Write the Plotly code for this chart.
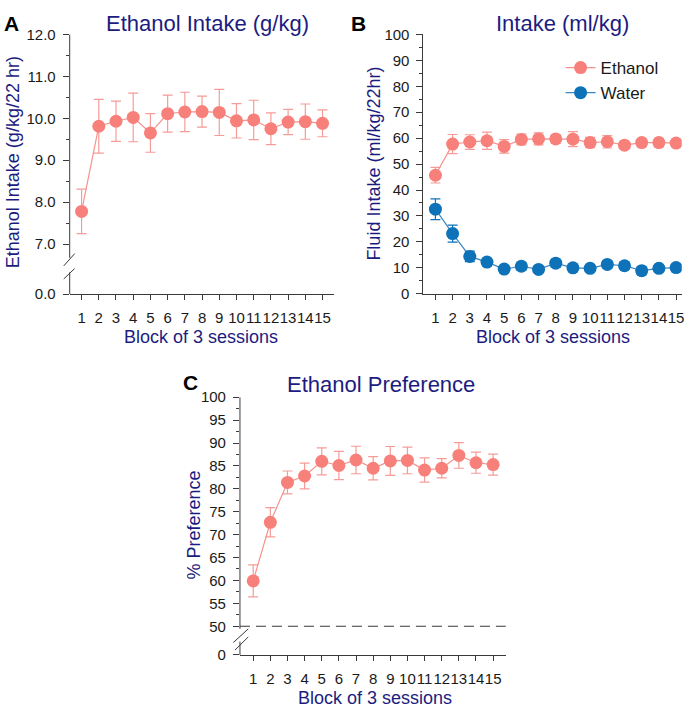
import plotly.graph_objects as go

# ---------------- data ----------------
blocks = list(range(1, 16))
block_labels = [str(b) for b in blocks]

ethanol_gkg = [7.78, 9.81, 9.93, 10.02, 9.65, 10.11, 10.15, 10.16, 10.14, 9.94, 9.96, 9.75, 9.91, 9.92, 9.88]
ethanol_gkg_sem = [0.53, 0.64, 0.48, 0.58, 0.46, 0.44, 0.47, 0.37, 0.55, 0.41, 0.47, 0.38, 0.30, 0.42, 0.32]

ethanol_mlkg = [45.7, 57.7, 58.5, 59.0, 56.8, 59.5, 59.7, 59.7, 59.6, 58.3, 58.6, 57.3, 58.3, 58.3, 58.1]
ethanol_mlkg_sem = [3.0, 3.7, 2.8, 3.3, 2.6, 2.1, 2.3, 1.6, 2.9, 2.0, 2.4, 1.5, 1.3, 1.6, 1.3]
water_mlkg = [32.6, 23.2, 14.4, 12.2, 9.5, 10.6, 9.4, 11.8, 10.0, 9.8, 11.3, 10.8, 8.9, 9.8, 10.1]
water_mlkg_sem = [4.0, 3.3, 2.0, 1.5, 1.2, 1.5, 1.2, 1.5, 1.3, 1.2, 1.4, 1.3, 1.5, 1.2, 1.2]

preference = [59.9, 72.7, 81.4, 82.8, 86.0, 85.1, 86.3, 84.5, 86.1, 86.2, 84.1, 84.5, 87.3, 85.7, 85.3]
preference_sem = [3.5, 3.2, 2.5, 2.8, 2.95, 3.1, 3.0, 2.55, 3.15, 2.9, 2.65, 2.1, 2.8, 2.3, 2.3]

# y tick labels
a_tick_vals = [7, 8, 9, 10, 11, 12]
a_tick_text = ["7.0", "8.0", "9.0", "10.0", "11.0", "12.0"]
b_tick_vals = list(range(0, 101, 10))
c_tick_vals = list(range(50, 101, 5))
chance_level = 50

# ---------------- styling ----------------
FONT = "Arial, Liberation Sans, sans-serif"
NAVY = "#1c1c80"
SALMON = "#F8807B"
SALMON_ERR = "#F59C98"
SALMON_LINE = "#F5928D"
BLUE = "#0D72B8"
AXIS = "#3a3a3a"
TICKC = "#1a1a1a"

W, H = 696, 715
def px(x):
    return x / W
def py(y):
    return 1 - y / H

# axis-break placeholders (virtual positions of the "0" label)
A_ZERO = 5.81
C_ZERO = 43.73

fig = go.Figure()

def add_series(x, y, sem, color, ecolor, lcolor, xa, ya, name, show):
    fig.add_trace(go.Scatter(
        x=x, y=y, mode="lines+markers", name=name, showlegend=show,
        xaxis=xa, yaxis=ya,
        line=dict(color=lcolor, width=1.2),
        marker=dict(color=color, size=13, line=dict(width=0)),
        error_y=dict(type="data", array=sem, visible=True, color=ecolor, thickness=1.2, width=5),
    ))

add_series(blocks, ethanol_gkg, ethanol_gkg_sem, SALMON, SALMON_ERR, SALMON_LINE, "x", "y", "Ethanol", False)
add_series(blocks, ethanol_mlkg, ethanol_mlkg_sem, SALMON, SALMON_ERR, SALMON_LINE, "x2", "y2", "Ethanol", True)
add_series(blocks, water_mlkg, water_mlkg_sem, BLUE, BLUE, "#3a86c2", "x2", "y2", "Water", True)
add_series(blocks, preference, preference_sem, SALMON, SALMON_ERR, SALMON_LINE, "x3", "y3", "Preference", False)

tickfont = dict(family=FONT, size=15, color=TICKC)

def xaxis_cfg(domain, rng, anchor):
    return dict(domain=domain, range=rng, anchor=anchor, tickmode="array",
                tickvals=blocks, ticktext=block_labels, ticks="outside", ticklen=5,
                tickcolor=AXIS, tickwidth=1, showline=True, linecolor=AXIS, linewidth=1,
                showgrid=False, zeroline=False, tickfont=tickfont, ticklabelstandoff=5,
                tickangle=0)

def yaxis_cfg(domain, rng, anchor, tv, tt, minor_vals, showline):
    return dict(domain=domain, range=rng, anchor=anchor, tickmode="array",
                tickvals=tv, ticktext=tt, ticks="outside", ticklen=6, tickcolor=AXIS,
                tickwidth=1, showline=showline, linecolor=AXIS, linewidth=1,
                showgrid=False, zeroline=False, tickfont=tickfont, ticklabelstandoff=4,
                minor=dict(tickmode="array", tickvals=minor_vals, ticks="outside",
                           ticklen=3, tickcolor=AXIS, tickwidth=1, showgrid=False))

dom_A_x = [px(70), px(335)]
dom_A_y = [py(292), py(26)]
dom_B_x = [px(425.3), px(684.7)]
dom_B_y = [py(291.7), py(26)]
dom_C_x = [px(241), px(508)]
dom_C_y = [py(661.7), py(397.7)]

fig.update_layout(
    width=W, height=H, autosize=False,
    margin=dict(l=0, r=0, t=0, b=0),
    paper_bgcolor="white", plot_bgcolor="white",
    font=dict(family=FONT),
    xaxis=xaxis_cfg(dom_A_x, [0.31, 15.64], "y"),
    yaxis=yaxis_cfg(dom_A_y, [A_ZERO, 12], "x", [A_ZERO] + a_tick_vals, ["0.0"] + a_tick_text,
                    [7.5, 8.5, 9.5, 10.5, 11.5], False),
    xaxis2=xaxis_cfg(dom_B_x, [0.305, 15.33], "y2"),
    yaxis2=yaxis_cfg(dom_B_y, [0, 100], "x2", b_tick_vals, [str(v) for v in b_tick_vals],
                     [v + 5 for v in b_tick_vals[:-1]], True),
    xaxis3=xaxis_cfg(dom_C_x, [0.227, 15.74], "y3"),
    yaxis3=yaxis_cfg(dom_C_y, [C_ZERO, 100], "x3", [C_ZERO] + c_tick_vals,
                     ["0"] + [str(v) for v in c_tick_vals],
                     [v + 2.5 for v in c_tick_vals[:-1]], False),
    legend=dict(x=px(563), y=py(42), xanchor="left", yanchor="top",
                font=dict(family=FONT, size=17, color=TICKC),
                bgcolor="rgba(0,0,0,0)", tracegroupgap=0, itemwidth=30),
)

# ---- broken y axis lines + break marks ----
shapes = []
def seg(xref, yref, x0, y0, x1, y1, dash="solid"):
    shapes.append(dict(type="line", xref=xref, yref=yref, x0=x0, y0=y0, x1=x1, y1=y1,
                       line=dict(color=AXIS, width=1, dash=dash)))

# Panel A
seg("x domain", "y", 0, 12, 0, 6.674)
seg("x domain", "y", 0, 6.326, 0, A_ZERO)
seg("x domain", "y", -0.0226, 6.481, 0.0189, 6.774)
seg("x domain", "y", -0.0226, 6.170, 0.0189, 6.419)
# Panel C
seg("x3 domain", "y3", 0, 100, 0, 49.42)
seg("x3 domain", "y3", 0, 46.65, 0, C_ZERO)
seg("x3 domain", "y3", -0.0251, 46.44, 0.0311, 49.42)
seg("x3 domain", "y3", -0.0187, 44.80, 0.0311, 47.66)
# chance line
seg("x3 domain", "y3", 0, chance_level, 1, chance_level, dash="10px,6px")

fig.update_layout(shapes=shapes)

# ---- text ----
ann = []
def text(x, y, s, size, color, bold=False, angle=0, xanchor="center"):
    ann.append(dict(x=px(x), y=py(y), xref="paper", yref="paper", text=("<b>%s</b>" % s) if bold else s,
                    showarrow=False, xanchor=xanchor, yanchor="middle", textangle=angle,
                    font=dict(family=FONT, size=size, color=color)))

# panel letters
text(12, 15, "A", 21, "black", bold=True)
text(360, 15, "B", 21, "black", bold=True)
text(191, 383, "C", 21, "black", bold=True)
# panel titles
text(208, 15, "Ethanol Intake (g/kg)", 22, NAVY)
text(565, 15, "Intake (ml/kg)", 22, NAVY)
text(383, 385, "Ethanol Preference", 22, NAVY)
# x titles
text(202, 336, "Block of 3 sessions", 18, NAVY)
text(555, 336, "Block of 3 sessions", 18, NAVY)
text(377, 706, "Block of 3 sessions", 18, NAVY)
# y titles
text(13, 157, "Ethanol Intake (g/kg/22 hr)", 18, NAVY, angle=-90)
text(376, 158, "Fluid Intake (ml/kg/22hr)", 18, NAVY, angle=-90)
text(195, 529, "% Preference", 18, NAVY, angle=-90)

fig.update_layout(annotations=ann)

fig.write_html(
    "out.html",
    config={"displayModeBar": False},
    post_script="document.body.style.margin='0';document.body.style.padding='0';"
                "document.documentElement.style.overflow='hidden';",
)
